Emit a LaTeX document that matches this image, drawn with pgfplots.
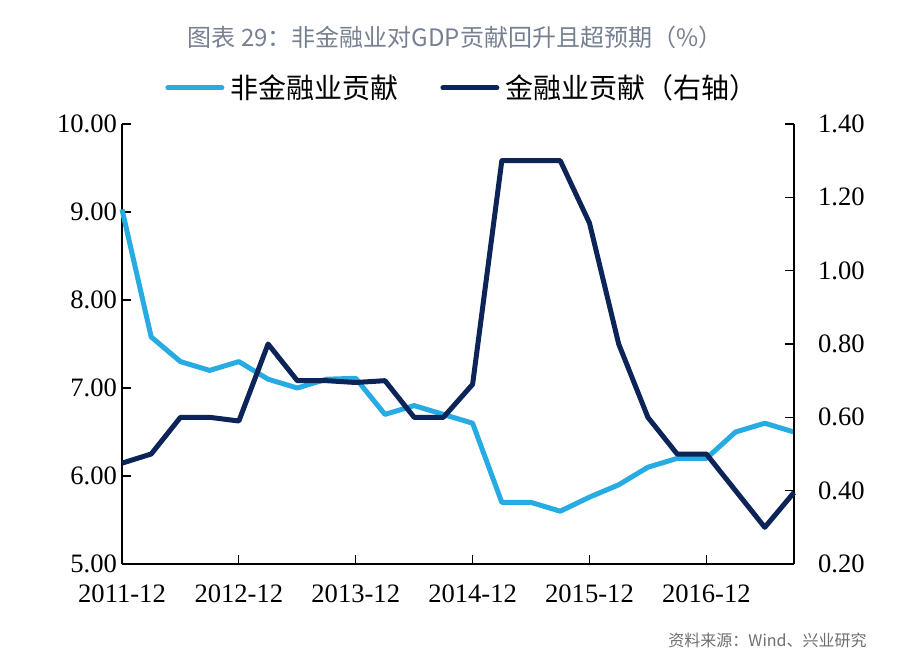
\documentclass[border=0pt]{standalone}
\usepackage{fontspec}
\setmainfont{Liberation Serif}
\newfontfamily\cjk{Noto Sans CJK SC}
\usepackage{pgfplots}
\pgfplotsset{compat=1.18}
\definecolor{lightb}{RGB}{38,172,226}
\definecolor{darkb}{RGB}{12,36,88}
\definecolor{titlegray}{RGB}{118,128,145}
\definecolor{srcgray}{RGB}{110,110,110}
\begin{document}
\begin{tikzpicture}
\pgfplotsset{
  common/.style={
    width=336pt, height=220pt, scale only axis,
    xmin=0, xmax=23,
    clip=false,
    major tick length=4.5pt,
    every tick/.style={black, line width=0.6pt},
    axis line style={black, line width=0.6pt, -},
    tick label style={font=\fontsize{13.3}{15}\selectfont},
    /pgf/number format/assume math mode=true,
    /pgf/number format/.cd, fixed, fixed zerofill, precision=2,
  }
}
\begin{axis}[common,
  axis x line*=bottom, axis y line*=left,
  xtick align=inside, ytick align=inside,
  ymin=5, ymax=10, ytick={5,6,...,10},
  xtick={0,4,8,12,16,20},
  xticklabels={2011-12,2012-12,2013-12,2014-12,2015-12,2016-12},
  xticklabel style={yshift=-7pt},
  yticklabel style={xshift=1pt},
]
\addplot[lightb, line width=2.5pt, line join=round] coordinates {
(0,9.03) (1,7.58) (2,7.30) (3,7.20) (4,7.30) (5,7.10) (6,7.00) (7,7.10)
(8,7.11) (9,6.70) (10,6.80) (11,6.70) (12,6.60) (13,5.70) (14,5.70) (15,5.60)
(16,5.76) (17,5.90) (18,6.10) (19,6.20) (20,6.20) (21,6.50) (22,6.60) (23,6.50)
};
\end{axis}
\begin{axis}[common,
  axis x line=none, axis y line*=right,
  ytick align=inside,
  ymin=0.2, ymax=1.4, ytick={0.2,0.4,...,1.41},
  yticklabel style={xshift=8.5pt},
  legend style={draw=none, fill=none, at={(0.064,1.082)}, anchor=west, inner sep=0pt,
    font=\cjk\fontsize{14}{16}\selectfont, legend columns=2,
    /tikz/every odd column/.append style={column sep=1pt},
    /tikz/every even column/.append style={column sep=19pt}},
  legend image code/.code={\draw[#1, line cap=round] (0pt,0pt) -- (27pt,0pt);},
]
\addlegendimage{lightb, line width=2.5pt}
\addlegendentry{非金融业贡献}
\addplot[darkb, line width=2.5pt, line join=round] coordinates {
(0,0.475) (1,0.50) (2,0.60) (3,0.60) (4,0.59) (5,0.80) (6,0.70) (7,0.70)
(8,0.695) (9,0.70) (10,0.60) (11,0.60) (12,0.69) (13,1.30) (14,1.30) (15,1.30)
(16,1.13) (17,0.80) (18,0.60) (19,0.50) (20,0.50) (21,0.40) (22,0.30) (23,0.395)
};
\addlegendentry{金融业贡献（右轴）}
\end{axis}
\node[titlegray, font=\cjk\fontsize{12}{14}\selectfont] at (166.5pt,263.5pt) {图表 29：非金融业对GDP贡献回升且超预期（\%）};
\node[srcgray, font=\cjk\fontsize{8}{10}\selectfont, anchor=east, inner sep=0pt] at (372.5pt,-38pt) {资料来源：Wind、兴业研究};
\pgfresetboundingbox
\useasboundingbox (-61pt,-53.5pt) rectangle (389pt,282pt);
\end{tikzpicture}
\end{document}
